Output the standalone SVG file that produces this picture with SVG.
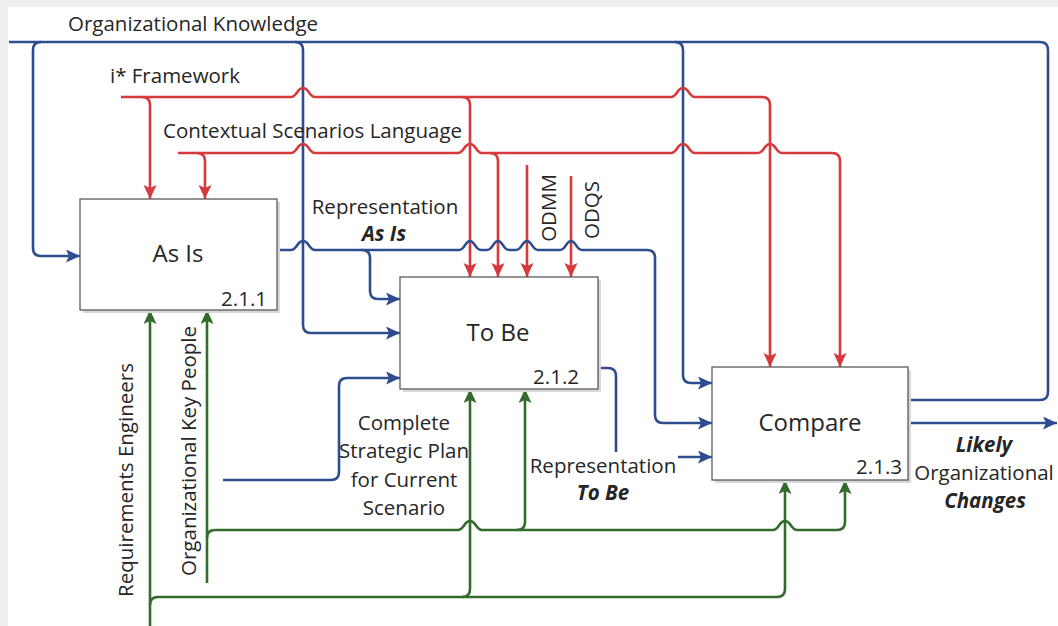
<svg xmlns="http://www.w3.org/2000/svg" width="1058" height="626" viewBox="0 0 1058 626">
  <style>
    text { font-family: "Open Sans", "Noto Sans", sans-serif; fill: #262626; }
    .lbl { font-size: 20.5px; }
    .em { font-size: 20.5px; font-weight: bold; font-style: italic; }
    .title { font-size: 24px; text-anchor: middle; }
    .num { font-size: 20.5px; text-anchor: end; }
    .mid { text-anchor: middle; }
    .box { fill: #ffffff; stroke: #5a5a5a; stroke-width: 1.3; }
    .shadow { fill: #d8d8d8; }
    .c { fill: none; stroke-width: 2.6; stroke-linejoin: round; }
    .blue { stroke: #2E4D8F; }
    .red { stroke: #D63A3C; }
    .green { stroke: #326B2D; }
    .ab { marker-end: url(#arrowBlue); }
    .ar { marker-end: url(#arrowRed); }
    .ag { marker-end: url(#arrowGreen); }
  </style>
  <defs>
    <marker id="arrowBlue" markerUnits="userSpaceOnUse" markerWidth="15" markerHeight="14" refX="14" refY="6.5" orient="auto">
      <path d="M0,0 L14,6.5 L0,13 L3,6.5 Z" fill="#2E4D8F"/>
    </marker>
    <marker id="arrowRed" markerUnits="userSpaceOnUse" markerWidth="15" markerHeight="14" refX="14" refY="6.5" orient="auto">
      <path d="M0,0 L14,6.5 L0,13 L3,6.5 Z" fill="#D63A3C"/>
    </marker>
    <marker id="arrowGreen" markerUnits="userSpaceOnUse" markerWidth="15" markerHeight="14" refX="14" refY="6.5" orient="auto">
      <path d="M0,0 L14,6.5 L0,13 L3,6.5 Z" fill="#326B2D"/>
    </marker>
  </defs>

  <!-- page -->
  <rect x="0" y="0" width="1058" height="626" fill="#eeeeee"/>
  <rect x="8" y="7" width="1050" height="619" fill="#ffffff"/>

  <!-- connectors -->
  <g id="connectors">
    <!-- controls: organizational knowledge (blue) -->
    <path class="c blue" d="M 9 42 H 1040 Q 1048 42 1048 50 V 392 Q 1048 400 1040 400 H 908"/>
    <path class="c blue ab" d="M 41 42 Q 33 42 33 50 V 248 Q 33 256 41 256 H 80"/>
    <path class="c blue ab" d="M 295 42 Q 303 42 303 50 V 325 Q 303 333 311 333 H 400"/>
    <path class="c blue ab" d="M 675 42 Q 683 42 683 50 V 375 Q 683 383 691 383 H 712"/>

    <!-- controls: i* framework (red) -->
    <path class="c red ar" d="M 121 97 H 291 C 297 97 297 88 303 88 C 309 88 309 97 315 97 H 671 C 677 97 677 88 683 88 C 689 88 689 97 695 97 H 762 Q 770 97 770 105 V 367"/>
    <path class="c red ar" d="M 142 97 Q 150 97 150 105 V 199"/>
    <path class="c red ar" d="M 462 97 Q 470 97 470 105 V 277"/>

    <!-- controls: contextual scenarios language (red) -->
    <path class="c red ar" d="M 178 153 H 291 C 297 153 297 144 303 144 C 309 144 309 153 315 153 H 458 C 464 153 464 144 470 144 C 476 144 476 153 482 153 H 671 C 677 153 677 144 683 144 C 689 144 689 153 695 153 H 758 C 764 153 764 144 770 144 C 776 144 776 153 782 153 H 832 Q 840 153 840 161 V 367"/>
    <path class="c red ar" d="M 197 153 Q 205 153 205 161 V 199"/>
    <path class="c red ar" d="M 490 153 Q 498 153 498 161 V 277"/>

    <!-- controls: ODMM, ODQS (red) -->
    <path class="c red ar" d="M 527 165 V 277"/>
    <path class="c red ar" d="M 571 176 V 277"/>

    <!-- representation As Is (blue) -->
    <path class="c blue ab" d="M 277 250 H 291 C 297 250 297 241 303 241 C 309 241 309 250 315 250 H 459 C 465 250 465 241 470 241 C 475 241 475 250 481 250 H 487 C 493 250 493 241 498 241 C 503 241 503 250 509 250 H 516 C 522 250 522 241 527 241 C 532 241 532 250 538 250 H 560 C 566 250 566 241 571 241 C 576 241 576 250 582 250 H 647 Q 655 250 655 258 V 415 Q 655 423 663 423 H 712"/>
    <path class="c blue ab" d="M 362 250 Q 370 250 370 258 V 291 Q 370 299 378 299 H 400"/>

    <!-- complete strategic plan (blue) -->
    <path class="c blue ab" d="M 223 480 H 331 Q 339 480 339 472 V 386 Q 339 378 347 378 H 400"/>

    <!-- representation To Be (blue) -->
    <path class="c blue" d="M 598 368 H 608 Q 616 368 616 376 V 452"/>
    <path class="c blue ab" d="M 678 457 H 712"/>

    <!-- output: likely organizational changes (blue) -->
    <path class="c blue ab" d="M 908 423 H 1057"/>

    <!-- mechanisms: requirements engineers (green) -->
    <path class="c green ag" d="M 150 626 V 310"/>
    <path class="c green ag" d="M 150 605 Q 150 597 158 597 H 777 Q 785 597 785 589 V 480"/>
    <path class="c green ag" d="M 462 597 Q 470 597 470 589 V 389"/>

    <!-- mechanisms: organizational key people (green) -->
    <path class="c green ag" d="M 207 583 V 310"/>
    <path class="c green ag" d="M 207 538 Q 207 530 215 530 H 458 C 464 530 464 521 470 521 C 476 521 476 530 482 530 H 773 C 779 530 779 521 785 521 C 791 521 791 530 797 530 H 837 Q 845 530 845 522 V 480"/>
    <path class="c green ag" d="M 517 530 Q 525 530 525 522 V 389"/>
  </g>

  <!-- activity boxes -->
  <g id="as-is">
    <rect class="shadow" x="83" y="202" width="197" height="111"/>
    <rect class="box" x="80" y="199" width="197" height="111"/>
    <text class="title" x="178" y="262">As Is</text>
    <text class="num" x="267" y="306">2.1.1</text>
  </g>
  <g id="to-be">
    <rect class="shadow" x="403" y="280" width="198" height="112"/>
    <rect class="box" x="400" y="277" width="198" height="112"/>
    <text class="title" x="498" y="341">To Be</text>
    <text class="num" x="579" y="384">2.1.2</text>
  </g>
  <g id="compare">
    <rect class="shadow" x="715" y="370" width="196" height="113"/>
    <rect class="box" x="712" y="367" width="196" height="113"/>
    <text class="title" x="810" y="431">Compare</text>
    <text class="num" x="902" y="474">2.1.3</text>
  </g>

  <!-- arrow labels -->
  <g id="labels">
    <text class="lbl" x="68" y="31">Organizational Knowledge</text>
    <text class="lbl" x="110" y="83">i* Framework</text>
    <text class="lbl" x="163" y="138">Contextual Scenarios Language</text>
    <text class="lbl mid" x="385" y="214">Representation</text>
    <text class="em mid" x="384" y="241">As Is</text>
    <text class="lbl mid" transform="translate(556 208) rotate(-90)">ODMM</text>
    <text class="lbl mid" transform="translate(599 210) rotate(-90)">ODQS</text>
    <text class="lbl mid" transform="translate(133 480) rotate(-90)">Requirements Engineers</text>
    <text class="lbl mid" transform="translate(196 451) rotate(-90)">Organizational Key People</text>
    <text class="lbl mid" x="404" y="430">Complete</text>
    <text class="lbl mid" x="404" y="458">Strategic Plan</text>
    <text class="lbl mid" x="404" y="487">for Current</text>
    <text class="lbl mid" x="404" y="515">Scenario</text>
    <text class="lbl mid" x="603" y="473">Representation</text>
    <text class="em mid" x="603" y="500">To Be</text>
    <text class="em mid" x="984" y="452">Likely</text>
    <text class="lbl mid" x="984" y="480">Organizational</text>
    <text class="em mid" x="985" y="508">Changes</text>
  </g>
</svg>
